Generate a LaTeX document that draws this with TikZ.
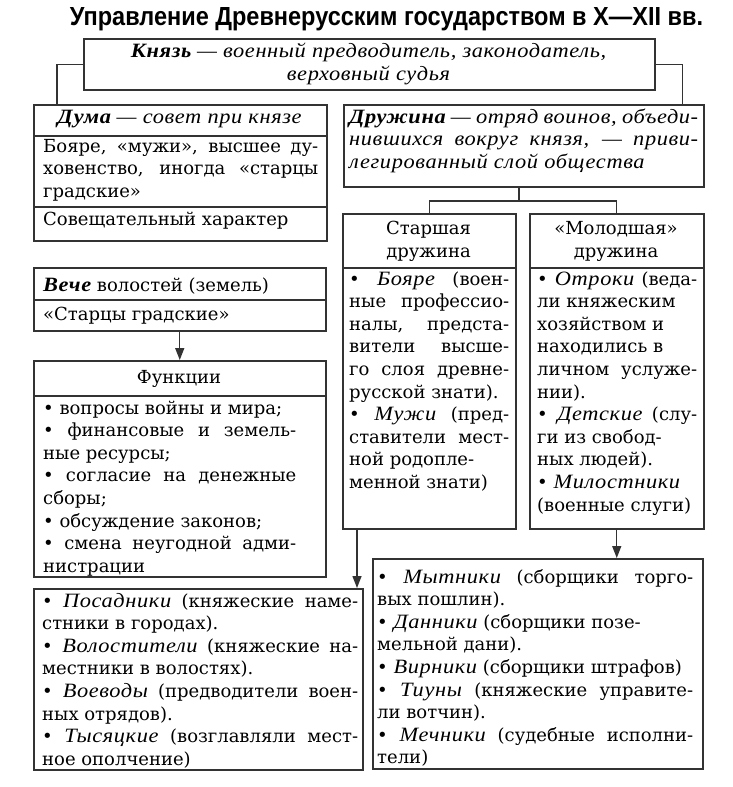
\documentclass[tikz,border=0pt]{standalone}
\usepackage{graphicx}
\usepackage{fontspec}
\setmainfont{DejaVu Serif}
\newfontfamily\curf[Scale=1.13, FakeStretch=1.1, LetterSpace=3]{Liberation Serif}
\newfontfamily\titlef{Liberation Sans}
\usetikzlibrary{arrows.meta}
\newcommand\kit[1]{{\curf\itshape #1}}
\newcommand\kbi[1]{{\curf\bfseries\itshape #1}}
\newcommand\JB{\break}
\newcommand\RB{\hfil\break}
\newcommand\bodyf{\fontsize{18}{22.6}\selectfont\parindent0pt\parskip0pt\tolerance10000\hbadness10000\hyphenpenalty10000\exhyphenpenalty10000\emergencystretch0pt}
\tikzset{
  bx/.style={draw=black!80, line width=1.5pt, inner sep=0pt, anchor=north west, fill=none},
  ln/.style={draw=black!80, line width=1.4pt},
  arr/.style={ln, -{Triangle[length=12pt,width=9pt]}},
  txt/.style={inner sep=0pt, anchor=base west, align=justify, font=\bodyf},
  ctxt/.style={inner sep=0pt, anchor=base, align=center, font=\bodyf},
}
\begin{document}
\begin{tikzpicture}[x=1pt,y=-1pt]
\useasboundingbox[fill=white] (0,0) rectangle (733,787);
% title
\node[inner sep=0pt, anchor=base] (title) at (386.5,25) {\resizebox{633pt}{18pt}{\titlef\bfseries Управление Древнерусским государством в X—XII вв.}};
% boxes
\node[bx, minimum width=571pt, minimum height=51pt] (knyaz) at (83,38) {};
\node[bx, minimum width=293pt, minimum height=31pt] (dumah) at (33,104) {};
\node[bx, minimum width=293pt, minimum height=71pt] (dumab) at (33,135) {};
\node[bx, minimum width=293pt, minimum height=34pt] (dumaf) at (33,206) {};
\node[bx, minimum width=360pt, minimum height=82pt] (druzh) at (343,104) {};
\node[bx, minimum width=173pt, minimum height=54pt] (starh) at (342,213) {};
\node[bx, minimum width=173pt, minimum height=261pt] (starb) at (342,267) {};
\node[bx, minimum width=174pt, minimum height=54pt] (molh) at (529,213) {};
\node[bx, minimum width=174pt, minimum height=261pt] (molb) at (529,267) {};
\node[bx, minimum width=292pt, minimum height=32pt] (vecheh) at (33,267) {};
\node[bx, minimum width=292pt, minimum height=31pt] (vecheb) at (33,299) {};
\node[bx, minimum width=292pt, minimum height=35pt] (funch) at (33,360) {};
\node[bx, minimum width=292pt, minimum height=181pt] (funcb) at (33,395) {};
\node[bx, minimum width=329pt, minimum height=181pt] (posad) at (33,588) {};
\node[bx, minimum width=330pt, minimum height=210pt] (mytn) at (372,558) {};
% texts
\node[ctxt] (tknyaz) at (368.5,80) {\kbi{Князь} \kit{— военный предводитель, законодатель,}\\\kit{верховный судья}};
\node[ctxt] (tdumah) at (179.5,123) {\kbi{Дума} \kit{— совет при князе}};
\node[txt, text width=275pt] (tdumab) at (43,152) {Бояре, «мужи», высшее ду-\JB ховенство, иногда «старцы\JB градские»};
\node[txt, text width=275pt] (tdumaf) at (43,225) {Совещательный характер};
\node[txt, text width=349pt] (tdruzh) at (349,123) {\kbi{Дружина} \kit{—} \kit{отряд} \kit{воинов,} \kit{объеди-}\JB \kit{нившихся} \kit{вокруг} \kit{князя,} \kit{—} \kit{приви-}\JB \kit{легированный слой общества}};
\node[ctxt] (tstarh) at (428.5,257) {Старшая\\дружина};
\node[ctxt] (tmolh) at (616,257) {«Молодшая»\\дружина};
\node[txt, text width=160pt] (tstarb) at (349,285) {• \kit{Бояре} (воен-\JB ные профессио-\JB налы, предста-\JB вители высше-\JB го слоя древне-\JB русской знати).\par • \kit{Мужи} (пред-\JB ставители мест-\JB ной родопле-\RB менной знати)};
\node[txt, text width=160pt] (tmolb) at (537,285) {• \kit{Отроки} (веда-\JB ли княжеским\RB хозяйством и\RB находились в\RB личном услуже-\JB нии).\par • \kit{Детские} (слу-\JB ги из свобод-\RB ных людей).\par • \kit{Милостники}\RB (военные слуги)};
\node[txt, text width=282pt] (tvecheh) at (43,291) {\kbi{Вече} волостей (земель)};
\node[txt, text width=282pt] (tvecheb) at (43,320) {«Старцы градские»};
\node[ctxt] (tfunch) at (179,383) {Функции};
\node[txt, text width=253pt] (tfuncb) at (43,414) {• вопросы войны и мира;\par • финансовые и земель-\JB ные ресурсы;\par • согласие на денежные\JB сборы;\par • обсуждение законов;\par • смена неугодной адми-\JB нистрации};
\node[txt, text width=316pt] (tposad) at (42,607) {• \kit{Посадники} (княжеские наме-\JB стники в городах).\par • \kit{Волостители} (княжеские на-\JB местники в волостях).\par • \kit{Воеводы} (предводители воен-\JB ных отрядов).\par • \kit{Тысяцкие} (возглавляли мест-\JB ное ополчение)};
\node[txt, text width=316pt] (tmytn) at (377,583) {• \kit{Мытники} (сборщики торго-\JB вых пошлин).\par • \kit{Данники} (сборщики позе-\RB мельной дани).\par • \kit{Вирники} (сборщики штрафов)\par • \kit{Тиуны} (княжеские управите-\JB ли вотчин).\par • \kit{Мечники} (судебные исполни-\JB тели)};
% connectors
\draw[ln] (knyaz.west) -| ([xshift=24pt]dumah.north west);
\draw[ln] (knyaz.east) -| ([xshift=-22pt]druzh.north east);
\coordinate (split) at (519,201);
\draw[ln] (druzh.south -| split) -- (split);
\draw[ln] (starh.north) |- (split) -| (molh.north);
\draw[arr] (vecheb.south) -- (funch.north);
\coordinate (s1) at ([xshift=15pt]starb.south west);
\draw[arr] (s1) -- (s1 |- posad.north);
\draw[arr] (molb.south) -- (molb.south |- mytn.north);
\end{tikzpicture}
\end{document}
